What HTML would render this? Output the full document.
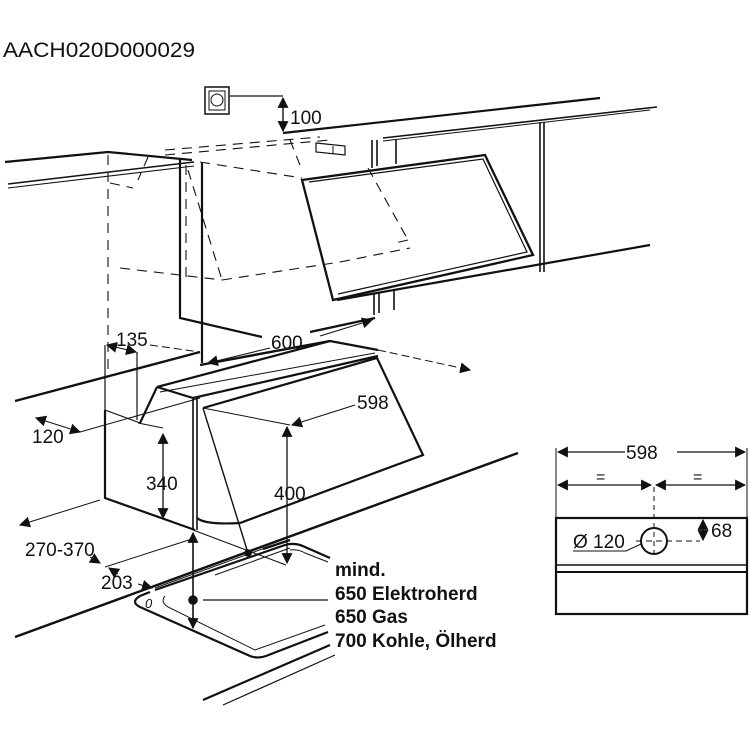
<!DOCTYPE html>
<html><head><meta charset="utf-8"><style>
html,body{margin:0;padding:0;background:#fff;}
svg{display:block;}
text{font-family:"Liberation Sans",Arial,sans-serif;fill:#111;}
</style></head><body>
<svg width="750" height="750" viewBox="0 0 750 750" xmlns="http://www.w3.org/2000/svg">
<defs>
<marker id="b" viewBox="0 0 10 10" refX="9" refY="5" markerWidth="11" markerHeight="11" markerUnits="userSpaceOnUse" orient="auto-start-reverse"><path d="M0,0 L10,5 L0,10 z" fill="#111"/></marker>
</defs>
<text x="3" y="57" font-size="21" textLength="192" lengthAdjust="spacingAndGlyphs">AACH020D000029</text>

<g fill="none" stroke="#111" stroke-width="1.6">
<rect x="205" y="87" width="24" height="27" stroke-width="1.5"/>
<rect x="209" y="91" width="16" height="19" stroke-width="1"/>
<circle cx="217" cy="100" r="6" stroke-width="1"/>
<line x1="230" y1="96" x2="283" y2="96" stroke-width="1.2"/>
<line x1="283" y1="98" x2="283" y2="131" stroke-width="1.4" marker-start="url(#b)" marker-end="url(#b)"/>
<line x1="283" y1="133" x2="600" y2="98" stroke-width="2.2"/>
<line x1="383" y1="138" x2="657" y2="107"/>
<line x1="383" y1="141" x2="650" y2="110" stroke-width="1"/>
<line x1="540" y1="122" x2="540" y2="272"/>
<line x1="544" y1="122" x2="544" y2="272"/>
<line x1="337" y1="300" x2="650" y2="245" stroke-width="2.2"/>
<path d="M302,180 L485,155 L533,255 L333,300 Z" stroke-width="2.3"/>
<path d="M309,182 L483,159 L527,252 L338,294" stroke-width="1.2"/>
<line x1="372" y1="140" x2="372" y2="168"/><line x1="377" y1="140" x2="377" y2="166"/><line x1="396" y1="140" x2="396" y2="164"/>
<line x1="374" y1="293" x2="374" y2="315"/><line x1="379" y1="293" x2="379" y2="313"/><line x1="394" y1="290" x2="394" y2="310"/>
<path d="M316,143 L345,146 L345,155 L316,152 Z" stroke-width="1.2"/>
<line x1="333" y1="146" x2="333" y2="154" stroke-width="1"/>
<g stroke-dasharray="10,7" stroke-width="1.1">
<line x1="165" y1="150" x2="320" y2="137"/>
<line x1="165" y1="155" x2="330" y2="140"/>
<line x1="200" y1="162" x2="302" y2="178"/>
<line x1="108" y1="155" x2="108" y2="370"/>
<line x1="120" y1="268" x2="222" y2="280"/>
<line x1="222" y1="280" x2="340" y2="262"/>
<line x1="340" y1="262" x2="410" y2="248"/>
<line x1="188" y1="170" x2="222" y2="280"/>
<line x1="186" y1="165" x2="186" y2="282"/>
<line x1="290" y1="140" x2="300" y2="165"/>
<line x1="368" y1="168" x2="408" y2="240"/>
<line x1="408" y1="240" x2="395" y2="243"/>
<line x1="148" y1="157" x2="138" y2="180"/>
<line x1="110" y1="183" x2="133" y2="188"/>
</g>
<polyline points="5,162 108,152 192,160" stroke-width="2.2"/>
<line x1="8" y1="184" x2="194" y2="162" stroke-width="1.5"/>
<line x1="8" y1="188" x2="194" y2="166" stroke-width="1.1"/>
<path d="M180,160 L180,318 L262,337" stroke-width="2.2"/>
<line x1="202" y1="163" x2="202" y2="363" stroke-width="2.2"/>
<line x1="310" y1="332" x2="375" y2="318" stroke-width="2.2"/>
<line x1="208" y1="363" x2="270" y2="348" marker-start="url(#b)" stroke-width="1.1"/>
<line x1="320" y1="336" x2="372" y2="320" marker-end="url(#b)" stroke-width="1.1"/>
<line x1="15" y1="401" x2="200" y2="352" stroke-width="2.4"/>
<line x1="200" y1="365" x2="330" y2="341" stroke-width="2.4"/>
<path d="M157,387 L330,341 L378,350" stroke-width="2.2"/>
<line x1="160" y1="392" x2="375" y2="353" stroke-width="1"/>
<path d="M157,387 L193,398 L378,356" stroke-width="2.2"/>
<path d="M105,410 L105,498 L195,530" stroke-width="2.2"/>
<line x1="105" y1="410" x2="140" y2="423" stroke-width="1.2"/>
<line x1="157" y1="387" x2="140" y2="423" stroke-width="2.2"/>
<line x1="193" y1="398" x2="193" y2="530"/>
<line x1="197" y1="398" x2="197" y2="530"/>
<path d="M203,408 L377,358 L423,455 L240,523 Q205,525 197,518" stroke-width="2.2"/>
<line x1="203" y1="408" x2="248" y2="553" stroke-width="1.4"/>
<circle cx="248" cy="553" r="3" fill="#111"/>
<line x1="193" y1="530" x2="286" y2="565" stroke-width="1"/>
<line x1="378" y1="350" x2="470" y2="370" stroke-dasharray="8,4" stroke-width="1" marker-end="url(#b)"/>
<line x1="292" y1="425" x2="355" y2="405" stroke-width="1" marker-start="url(#b)"/>
<line x1="203" y1="408" x2="290" y2="425" stroke-width="1"/>
<line x1="287" y1="427" x2="287" y2="563" stroke-width="1.3" marker-start="url(#b)" marker-end="url(#b)"/>
<line x1="163" y1="434" x2="163" y2="518" stroke-width="1.3" marker-start="url(#b)" marker-end="url(#b)"/>
<line x1="138" y1="423" x2="163" y2="428" stroke-width="1"/>
<line x1="105" y1="345" x2="105" y2="410" stroke-width="1.2"/>
<line x1="137" y1="352" x2="137" y2="420" stroke-width="1.2"/>
<line x1="107" y1="345" x2="136" y2="352" stroke-width="1" marker-start="url(#b)" marker-end="url(#b)"/>
<line x1="150" y1="345" x2="200" y2="352" stroke-dasharray="8,4" stroke-width="1"/>
<line x1="36" y1="418" x2="80" y2="432" stroke-width="1" marker-start="url(#b)" marker-end="url(#b)"/>
<line x1="80" y1="432" x2="200" y2="398" stroke-width="1"/>
<line x1="20" y1="525" x2="100" y2="500" stroke-width="1" marker-start="url(#b)"/>
<line x1="90" y1="557" x2="100" y2="563" stroke-width="1" marker-end="url(#b)"/>
<line x1="118" y1="574" x2="109" y2="568" stroke-width="1" marker-end="url(#b)"/>
<line x1="105" y1="567" x2="195" y2="538" stroke-width="1"/>
<line x1="138" y1="584" x2="152" y2="588" stroke-width="1" marker-end="url(#b)"/>
<line x1="155" y1="588" x2="265" y2="548" stroke-width="1"/>
<line x1="193" y1="533" x2="193" y2="628" stroke-width="1.6" marker-start="url(#b)" marker-end="url(#b)"/>
<circle cx="193" cy="600" r="4" fill="#111"/>
<line x1="203" y1="600" x2="328" y2="600" stroke-width="1.2"/>
<line x1="15" y1="637" x2="518" y2="453" stroke-width="2.4"/>
<line x1="263" y1="549" x2="290" y2="540" stroke-width="2.4"/>
<line x1="215" y1="575" x2="290" y2="548" stroke-width="1"/>
<path d="M155,590 L285,545 Q295,542 305,547 L330,558" stroke-width="2.2"/>
<path d="M290,550 Q298,549 305,553 L328,562" stroke-width="1"/>
<path d="M150,592 L140,596 Q130,602 140,607 L250,656 Q258,659 266,656 L328,632" stroke-width="2.2"/>
<path d="M165,596 Q160,602 168,607 L255,650 L325,625" stroke-width="1"/>
<line x1="203" y1="700" x2="330" y2="645" stroke-width="2.2"/>
<line x1="223" y1="705" x2="335" y2="655" stroke-width="1.2"/>
</g>
<text x="145" y="608" font-size="13" font-style="italic">0</text>

<g font-size="19">
<text x="290" y="124">100</text>
<text x="271" y="349">600</text>
<text x="116" y="346">135</text>
<text x="357" y="409">598</text>
<text x="146" y="490">340</text>
<text x="274" y="500">400</text>
<text x="32" y="443">120</text>
<text x="25" y="556">270-370</text>
<text x="101" y="589">203</text>
</g>
<g font-size="19" font-weight="bold">
<text x="335" y="576">mind.</text>
<text x="335" y="600">650 Elektroherd</text>
<text x="335" y="623">650 Gas</text>
<text x="335" y="647">700 Kohle, Ölherd</text>
</g>

<g fill="none" stroke="#111" stroke-width="1.5">
<rect x="556" y="518" width="191" height="96" stroke-width="2.2"/>
<line x1="556" y1="565" x2="747" y2="565"/>
<line x1="556" y1="572" x2="747" y2="572" stroke-width="2"/>
<line x1="556" y1="448" x2="556" y2="518" stroke-width="1"/>
<line x1="747" y1="448" x2="747" y2="518" stroke-width="1"/>
<line x1="558" y1="452" x2="625" y2="452" stroke-width="1.2" marker-start="url(#b)"/>
<line x1="677" y1="452" x2="745" y2="452" stroke-width="1.2" marker-end="url(#b)"/>
<line x1="558" y1="485" x2="651" y2="485" stroke-width="1.2" marker-start="url(#b)" marker-end="url(#b)"/>
<line x1="656" y1="485" x2="745" y2="485" stroke-width="1.2" marker-start="url(#b)" marker-end="url(#b)"/>
<line x1="654" y1="487" x2="654" y2="558" stroke-dasharray="5,4" stroke-width="1"/>
<circle cx="654" cy="541" r="13" stroke-width="2"/>
<line x1="636" y1="541" x2="700" y2="541" stroke-dasharray="6,4" stroke-width="1"/>
<line x1="703" y1="520" x2="703" y2="540" stroke-width="1.2" marker-start="url(#b)" marker-end="url(#b)"/>
<path d="M573,551 L626,551 L641,544" stroke-width="1"/>
</g>
<text x="626" y="459" font-size="19">598</text>
<text x="596" y="482" font-size="16">=</text>
<text x="693" y="482" font-size="16">=</text>
<text x="573" y="548" font-size="19">Ø 120</text>
<text x="711" y="537" font-size="19">68</text>
</svg>
</body></html>
